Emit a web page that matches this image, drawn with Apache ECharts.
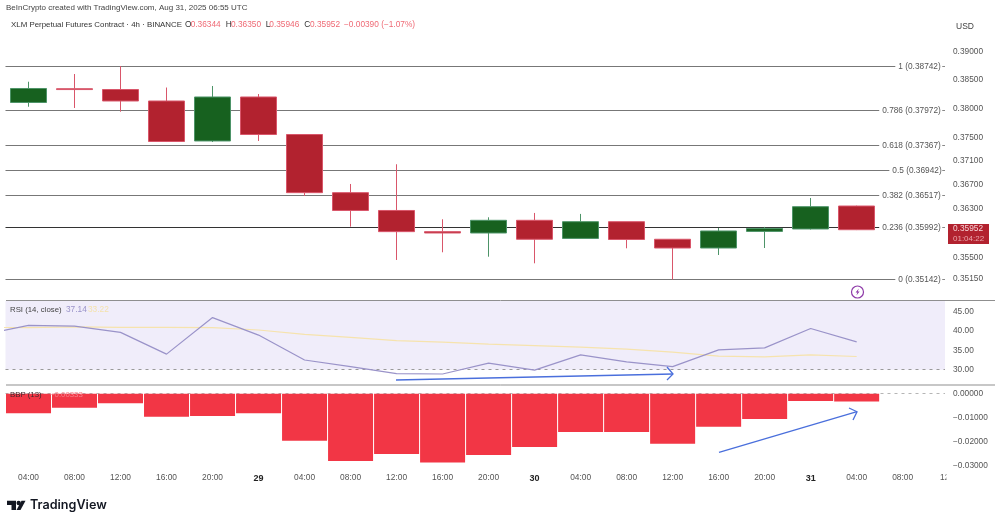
<!DOCTYPE html>
<html>
<head>
<meta charset="utf-8">
<script src="https://cdn.jsdelivr.net/npm/echarts@6/dist/echarts.min.js"></script>
<style>
  html, body { margin: 0; padding: 0; background: #fff; }
  #main { width: 1000px; height: 524px; }
</style>
</head>
<body>
<div id="main"></div>
<script>
// candle rows: open, close, low, high
var candles = [
  [0.38109, 0.38354, 0.38035, 0.38473],
  [0.38350, 0.38335, 0.38013, 0.38609],
  [0.38336, 0.38135, 0.37948, 0.38751],
  [0.38135, 0.37434, 0.37425, 0.38371],
  [0.37443, 0.38205, 0.37425, 0.38398],
  [0.38205, 0.37554, 0.37443, 0.38257],
  [0.37554, 0.36567, 0.36512, 0.37554],
  [0.36567, 0.36270, 0.36002, 0.36713],
  [0.36270, 0.35920, 0.35457, 0.37046],
  [0.35920, 0.35898, 0.35582, 0.36124],
  [0.35898, 0.36107, 0.35510, 0.36157],
  [0.36107, 0.35795, 0.35403, 0.36229],
  [0.35809, 0.36084, 0.35805, 0.36213],
  [0.36084, 0.35791, 0.35647, 0.36084],
  [0.35795, 0.35652, 0.35142, 0.35795],
  [0.35652, 0.35931, 0.35538, 0.35981],
  [0.35924, 0.35973, 0.35652, 0.35998],
  [0.35964, 0.36333, 0.35955, 0.36478],
  [0.36344, 0.35952, 0.35946, 0.36350]
];
// first RSI / MA point sits one bar before the visible window
var rsiValues = [39.0, 41.4, 41.2, 39.6, 34.0, 43.4, 38.9, 32.5, 30.8, 29.0, 28.9, 31.7, 29.9, 33.8, 32.0, 30.8, 35.1, 35.6, 40.6, 37.14];
var rsiMaValues = [40.9, 40.8, 41.0, 40.9, 40.9, 40.8, 40.2, 39.1, 38.3, 37.5, 37.1, 36.6, 36.2, 35.8, 35.3, 34.5, 33.5, 33.3, 33.8, 33.4];
var bbpValues = [-0.0082, -0.0059, -0.0040, -0.0096, -0.0093, -0.0082, -0.0197, -0.0282, -0.0252, -0.0288, -0.0256, -0.0223, -0.0160, -0.0160, -0.0209, -0.0138, -0.0106, -0.0031, -0.0033];

var timeLabels = ["04:00", "08:00", "12:00", "16:00", "20:00", "29", "04:00", "08:00", "12:00", "16:00", "20:00", "30", "04:00", "08:00", "12:00", "16:00", "20:00", "31", "04:00", "08:00"];
var priceTicks = [0.39, 0.385, 0.38, 0.375, 0.371, 0.367, 0.363, 0.355, 0.3515];
var rsiTicks = [30, 35, 40, 45];
var bbpTicks = [0, -0.01, -0.02, -0.03];

var fibLevels = [1, 0.786, 0.618, 0.5, 0.382, 0.236, 0];
var fibPrices = [0.38742, 0.37972, 0.37367, 0.36942, 0.36517, 0.35992, 0.35142];
var fibLineEnds = [18.84, 18.49, 18.49, 18.71, 18.49, 18.49, 18.84];

var FONT = "'Liberation Sans', Arial, sans-serif";
var X_MIN = -0.5, X_MAX = 19.92;

var chart = echarts.init(document.getElementById("main"));

function xAxisFor(gridIndex, showLabels) {
  return {
    type: "value", gridIndex: gridIndex, min: X_MIN, max: X_MAX,
    splitLine: { show: false }, axisLine: { show: false }, axisTick: { show: false },
    axisLabel: {
      show: showLabels, margin: 4, fontFamily: FONT, fontSize: 8.4, color: "#555",
      customValues: timeLabels.map(function (t, i) { return i; }),
      formatter: function (v) {
        var t = timeLabels[v];
        return t.length === 2 ? "{day|" + t + "}" : t;
      },
      rich: { day: { fontWeight: "bold", fontSize: 9, color: "#222", fontFamily: FONT } }
    }
  };
}

function fibMarkData() {
  var rows = [];
  fibPrices.forEach(function (p, i) {
    var dark = fibLevels[i] === 0.236;
    var lineStyle = { color: dark ? "#333" : "#777", width: 1.1, type: "solid" };
    rows.push([
      { coord: [X_MIN, p], lineStyle: lineStyle,
        label: { show: true, position: "end", distance: 3, formatter: fibLevels[i] + " (" + p.toFixed(5) + ")", color: "#555", fontSize: 8.3, fontFamily: FONT } },
      { coord: [fibLineEnds[i], p] }
    ]);
    rows.push([
      { coord: [19.86, p], lineStyle: { color: "#888", width: 1, type: "solid" }, label: { show: false } },
      { coord: [X_MAX, p] }
    ]);
  });
  return rows;
}

function headerText(str, x, color) {
  return { type: "text", x: x, y: 21, z: 20, style: { text: str, fill: color, font: "8.3px " + FONT } };
}

var option = {
  animation: false,
  backgroundColor: "#fff",
  textStyle: { fontFamily: FONT },
  grid: [
    { left: 5.5, width: 939.5, top: 14, height: 286 },
    { left: 5.5, width: 939.5, top: 301, height: 84 },
    { left: 5.5, width: 939.5, top: 385, height: 85 }
  ],
  xAxis: [xAxisFor(0, false), xAxisFor(1, false), xAxisFor(2, true)],
  yAxis: [
    {
      type: "log", logBase: 10, gridIndex: 0, position: "right", min: 0.34813, max: 0.39685,
      splitLine: { show: false }, axisLine: { show: false }, axisTick: { show: false },
      axisLabel: {
        margin: 8, fontSize: 8.3, color: "#555", fontFamily: FONT, customValues: priceTicks,
        formatter: function (v) { return Number(v).toFixed(5); }
      }
    },
    {
      type: "value", gridIndex: 1, position: "right", min: 26.07, max: 47.66,
      splitLine: { show: false }, axisLine: { show: false }, axisTick: { show: false },
      axisLabel: {
        margin: 8, fontSize: 8.3, color: "#555", fontFamily: FONT, customValues: rsiTicks,
        formatter: function (v) { return v.toFixed(2); }
      }
    },
    {
      type: "value", gridIndex: 2, position: "right", min: -0.03192, max: 0.00364,
      splitLine: { show: false }, axisLine: { show: false }, axisTick: { show: false },
      axisLabel: {
        margin: 8, fontSize: 8.3, color: "#555", fontFamily: FONT, customValues: bbpTicks,
        formatter: function (v) { return v === 0 ? "0.00000" : "\u2212" + Math.abs(v).toFixed(5); }
      }
    }
  ],
  series: [
    {
      // carries only the fib levels, kept under the candles
      type: "line", xAxisIndex: 0, yAxisIndex: 0, data: [], z: 1,
      markLine: { silent: true, symbol: "none", z: 1, data: fibMarkData() }
    },
    {
      type: "candlestick", xAxisIndex: 0, yAxisIndex: 0, barWidth: 36, z: 2,
      encode: { x: 0, y: [1, 2, 3, 4] },
      data: candles.map(function (c, i) { return [i, c[0], c[1], c[2], c[3]]; }),
      itemStyle: { color: "#17611f", color0: "#b2222f", borderColor: "#4d9468", borderColor0: "#d9566a", borderWidth: 1 }
    },
    {
      type: "line", xAxisIndex: 1, yAxisIndex: 1, z: 3, symbol: "none",
      data: rsiMaValues.map(function (v, i) { return [i - 1, v]; }),
      lineStyle: { color: "#f6e3ad", width: 1.2 },
      markArea: {
        silent: true, z: 0,
        itemStyle: { color: "#f0edfa" },
        data: [[{ coord: [X_MIN, 30] }, { coord: [X_MAX, 47.66] }]]
      },
      markLine: {
        silent: true, symbol: "none", z: 1,
        lineStyle: { color: "#9a9a9a", width: 1, type: [3, 4] }, label: { show: false },
        data: [[{ coord: [X_MIN, 30] }, { coord: [X_MAX, 30] }]]
      }
    },
    {
      type: "line", xAxisIndex: 1, yAxisIndex: 1, z: 4, symbol: "none",
      data: rsiValues.map(function (v, i) { return [i - 1, v]; }),
      lineStyle: { color: "#9a93c9", width: 1.2 }
    },
    {
      type: "bar", xAxisIndex: 2, yAxisIndex: 2, barWidth: 45, z: 2,
      data: bbpValues.map(function (v, i) { return [i, v]; }),
      itemStyle: { color: "#f23645" },
      markLine: {
        silent: true, symbol: "none", z: 1,
        lineStyle: { color: "#b5b5b5", width: 1, type: [3, 4] }, label: { show: false },
        data: [[{ coord: [X_MIN, 0] }, { coord: [X_MAX, 0] }]]
      }
    }
  ],
  graphic: [
    // pane separators
    { type: "line", shape: { x1: 6, y1: 300.5, x2: 995, y2: 300.5 }, style: { stroke: "#8f8f8f", lineWidth: 1 }, z: 20 },
    { type: "line", shape: { x1: 6, y1: 385, x2: 995, y2: 385 }, style: { stroke: "#8f8f8f", lineWidth: 1 }, z: 20 },

    // header
    { type: "text", x: 6, y: 4, z: 20, style: { text: "BeInCrypto created with TradingView.com, Aug 31, 2025 06:55 UTC", fill: "#444", font: "8px " + FONT } },
    { type: "text", x: 11, y: 21, z: 20, style: { text: "XLM Perpetual Futures Contract \u00b7 4h \u00b7 BINANCE", fill: "#333", font: "7.9px " + FONT } },
    headerText("O", 185, "#333"), headerText("0.36344", 190.7, "#ef6a75"),
    headerText("H", 225.7, "#333"), headerText("0.36350", 231, "#ef6a75"),
    headerText("L", 265.7, "#333"), headerText("0.35946", 269.3, "#ef6a75"),
    headerText("C", 304.3, "#333"), headerText("0.35952", 310, "#ef6a75"),
    headerText("\u22120.00390 (\u22121.07%)", 344, "#ef6a75"),
    { type: "text", x: 956, y: 22, z: 20, style: { text: "USD", fill: "#444", font: "8.5px " + FONT } },

    // current price tag
    { type: "rect", shape: { x: 948, y: 224, width: 41, height: 20 }, style: { fill: "#b2222f" }, z: 20 },
    { type: "text", x: 953, y: 225, z: 21, style: { text: "0.35952", fill: "#f6d4d7", font: "8.3px " + FONT } },
    { type: "text", x: 953, y: 235, z: 21, style: { text: "01:04:22", fill: "#eba4ab", font: "8px " + FONT } },

    // pane legends
    { type: "text", x: 10, y: 306, z: 20, style: { text: "RSI (14, close)", fill: "#444", font: "7.8px " + FONT } },
    { type: "text", x: 66, y: 306, z: 20, style: { text: "37.14", fill: "#9a93c9", font: "8.3px " + FONT } },
    { type: "text", x: 88, y: 306, z: 20, style: { text: "33.22", fill: "#f4e2ac", font: "8.3px " + FONT } },
    { type: "text", x: 10, y: 391, z: 20, style: { text: "BBP (13)", fill: "#44262a", font: "7.8px " + FONT } },
    { type: "text", x: 50, y: 391, z: 20, style: { text: "\u22120.00333", fill: "#f7838d", font: "7.8px " + FONT } },

    // last clipped time label, cut at the pane edge
    { type: "text", x: 940, y: 474, z: 20, style: { text: "12", fill: "#555", font: "8.4px " + FONT } },
    { type: "rect", z: 21, shape: { x: 946.5, y: 472, width: 6, height: 12 }, style: { fill: "#fff" } },

    // drawn arrows
    { type: "polyline", z: 20, shape: { points: [[396, 380], [673, 374]] }, style: { stroke: "#4a6fdc", lineWidth: 1.3, fill: "none" } },
    { type: "polyline", z: 20, shape: { points: [[667, 367], [673, 374], [667, 380]] }, style: { stroke: "#4a6fdc", lineWidth: 1.3, fill: "none" } },
    { type: "polyline", z: 20, shape: { points: [[719, 452.3], [857, 411.7]] }, style: { stroke: "#4a6fdc", lineWidth: 1.3, fill: "none" } },
    { type: "polyline", z: 20, shape: { points: [[849, 408], [857, 411.7], [853, 420]] }, style: { stroke: "#4a6fdc", lineWidth: 1.3, fill: "none" } },

    // lightning badge
    { type: "circle", z: 20, shape: { cx: 857.5, cy: 292, r: 6 }, style: { stroke: "#8e3aa8", lineWidth: 1.2, fill: "#fff" } },
    { type: "polygon", z: 21, shape: { points: [[858.8, 288.5], [855.6, 292.6], [857.4, 292.6], [856.4, 295.5], [859.6, 291.4], [857.8, 291.4]] }, style: { fill: "#8e3aa8" } },

    // TradingView logo
    { type: "polygon", z: 20, shape: { points: [[7, 500.7], [16, 500.7], [16, 510], [11.5, 510], [11.5, 505], [7, 505]] }, style: { fill: "#131722" } },
    { type: "circle", z: 20, shape: { cx: 18.7, cy: 503, r: 2.2 }, style: { fill: "#131722" } },
    { type: "polygon", z: 20, shape: { points: [[21.5, 500.7], [25.5, 500.7], [20.5, 510], [16.5, 510]] }, style: { fill: "#131722" } },
    { type: "text", x: 30, y: 499, z: 20, style: { text: "TradingView", fill: "#131722", font: "600 12.6px Inter, " + FONT } }
  ]
};

chart.setOption(option);
</script>
</body>
</html>
